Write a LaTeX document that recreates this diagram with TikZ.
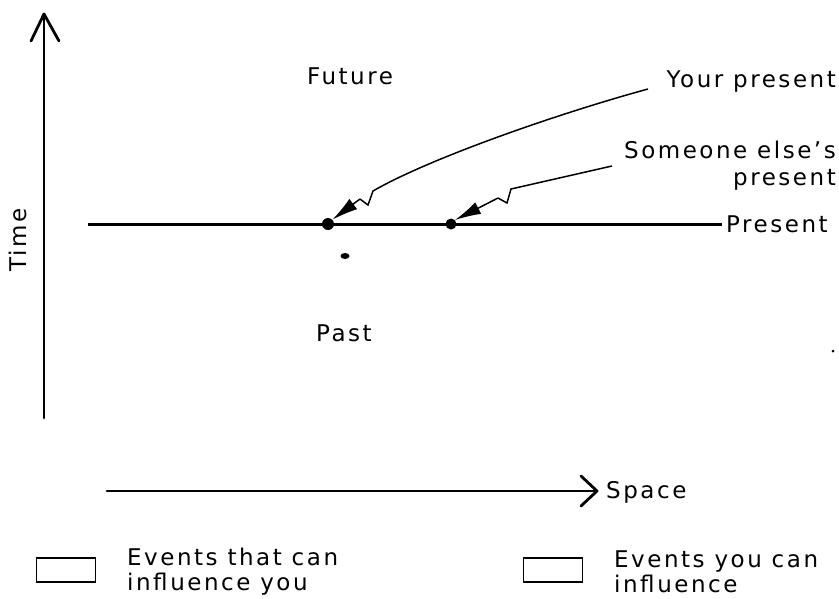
\documentclass[tikz,border=0pt]{standalone}
\usepackage{fontspec}
\setmainfont{DejaVu Sans}[LetterSpace=11]
\usetikzlibrary{arrows.meta}
\begin{document}
\begin{tikzpicture}[x=1pt,y=-1pt,
  lbl/.style={inner sep=0pt,font=\fontsize{23}{27}\selectfont},
  axis/.style={line width=2.8pt,line cap=round,line join=round},
  pointer/.style={line width=1.5pt,line join=miter},
  tipend/.style={-{Latex[length=26pt,width=13pt]}},
  legbox/.style={draw,line width=1.3pt,minimum width=59pt,minimum height=24pt,inner sep=0pt}]
\useasboundingbox (0,0) rectangle (839,598);
% time axis
\coordinate (tb) at (44,418);
\coordinate (tt) at (44,14);
\draw[axis] (tb) -- (tt);
\draw[axis] (tt) ++(-13,27) -- (tt) -- ++(15,27);
\node[lbl,rotate=90] (time) at (18,240) {Time};
% present line
\coordinate (pl) at (88,224);
\coordinate (pr) at (722,224);
\draw[line width=3pt] (pl) -- (pr);
\node[lbl,anchor=west] (present) at (726,224) {Present};
\node[circle,fill,inner sep=0pt,minimum size=12pt] (you) at (328,224) {};
\node[circle,fill,inner sep=0pt,minimum size=11pt] (other) at (451,224) {};
% labels
\node[lbl] (future) at (350,76) {Future};
\node[lbl] (past) at (344,333) {Past};
\node[lbl,anchor=east] (yourp) at (836,82) {Your present};
\node[lbl,anchor=east,align=right] (someone) at (836,166) {Someone else's\\present};
% pointer 1
\coordinate (a1) at (648,89);
\coordinate (a2) at (373,191);
\coordinate (a3) at (368,205);
\coordinate (a4) at (360,199);
\draw[pointer] (a1) .. controls (560,113) and (430,158) .. (a2) -- (a3) -- (a4);
\draw[pointer,tipend] (a4) -- (you.north east);
% pointer 2
\coordinate (b1) at (612,166);
\coordinate (b2) at (511,189);
\coordinate (b3) at (507,203);
\coordinate (b4) at (498,198);
\draw[pointer] (b1) -- (b2) -- (b3) -- (b4);
\draw[pointer,tipend] (b4) -- (other.north east);
% stray marks
\fill (345,256) ellipse (4.5pt and 3pt);
\fill (833,351) circle (1.5pt);
% space axis
\coordinate (sl) at (107,491);
\coordinate (sr) at (597,491);
\draw[axis] (sl) -- (sr);
\draw[axis] (sr) ++(-16,-15) -- (sr) -- ++(-16,15);
\node[lbl,anchor=west] (space) at (606,492) {Space};
% legend
\node[legbox] (box1) at (66,570) {};
\node[lbl,anchor=west,align=left,font=\fontsize{23}{25}\selectfont] (leg1) at (127,572) {Events that can\\influence you};
\node[legbox] (box2) at (553,570) {};
\node[lbl,anchor=west,align=left,font=\fontsize{23}{25}\selectfont] (leg2) at (614,572) {Events you can\\influence};
\end{tikzpicture}
\end{document}
